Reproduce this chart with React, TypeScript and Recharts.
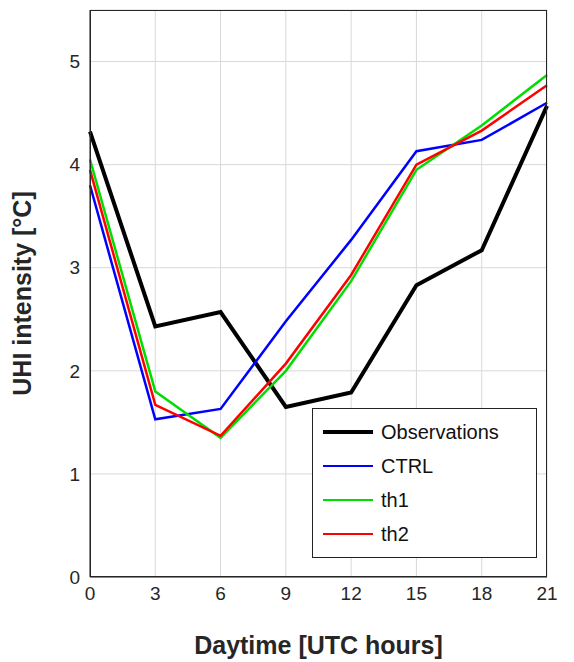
import { LineChart, Line, XAxis, YAxis, CartesianGrid } from "recharts";

const hours = [0, 3, 6, 9, 12, 15, 18, 21];
const observations = [4.32, 2.43, 2.57, 1.65, 1.79, 2.83, 3.17, 4.57];
const ctrl = [3.8, 1.53, 1.63, 2.48, 3.27, 4.13, 4.24, 4.6];
const th1 = [4.05, 1.8, 1.35, 2.0, 2.87, 3.95, 4.38, 4.87];
const th2 = [3.95, 1.67, 1.37, 2.07, 2.93, 4.0, 4.33, 4.77];
const yTicks = [0, 1, 2, 3, 4, 5];

const rows = hours.map((h, i) => ({ h, obs: observations[i], ctrl: ctrl[i], th1: th1[i], th2: th2[i] }));

const series = [
  { key: "obs", name: "Observations", color: "#000000", width: 4 },
  { key: "ctrl", name: "CTRL", color: "#0000ff", width: 2.5 },
  { key: "th1", name: "th1", color: "#00dd00", width: 2.5 },
  { key: "th2", name: "th2", color: "#ff0000", width: 2.5 },
];

function LegendBox() {
  return (
    <div style={{ position: "absolute", left: 312, top: 408, border: "1px solid #222", background: "#fff", padding: "6px 10px", width: 203 }}>
      {series.map((s) => (
        <div key={s.key} style={{ display: "flex", alignItems: "center", height: 34, fontSize: 20, color: "#111" }}>
          <div style={{ width: 50, height: s.width, background: s.color, marginRight: 8 }} />
          {s.name}
        </div>
      ))}
    </div>
  );
}

const tick = { fill: "#262626", fontSize: 19 };

export default function App() {
  return (
    <div style={{ position: "absolute", left: 0, top: 0, width: 574, height: 662, background: "#fff", fontFamily: "Liberation Sans, Arial, sans-serif" }}>
      <LineChart width={574} height={662} data={rows} margin={{ top: 10, right: 27, left: 0, bottom: 0 }}>
        <CartesianGrid stroke="#d8d8d8" />
        <XAxis dataKey="h" type="number" domain={[0, 21]} ticks={hours} tick={tick} stroke="#262626" tickSize={0} tickMargin={10} height={85}
          label={{ value: "Daytime [UTC hours]", position: "insideBottom", offset: 8, style: { fontSize: 25, fontWeight: "bold", fill: "#262626" } }} />
        <YAxis domain={[0, 5.5]} ticks={yTicks} tick={tick} stroke="#262626" tickSize={0} tickMargin={10} width={90}
          label={{ value: "UHI intensity [°C]", angle: -90, position: "insideLeft", offset: 22, style: { fontSize: 25, fontWeight: "bold", fill: "#262626", textAnchor: "middle" } }} />
        {series.map((s) => (
          <Line key={s.key} dataKey={s.key} name={s.name} stroke={s.color} strokeWidth={s.width} dot={false} isAnimationActive={false} />
        ))}
      </LineChart>
      <div style={{ position: "absolute", left: 90, top: 10, width: 457, height: 567, border: "1px solid #262626", boxSizing: "border-box", pointerEvents: "none" }} />
      <LegendBox />
    </div>
  );
}
